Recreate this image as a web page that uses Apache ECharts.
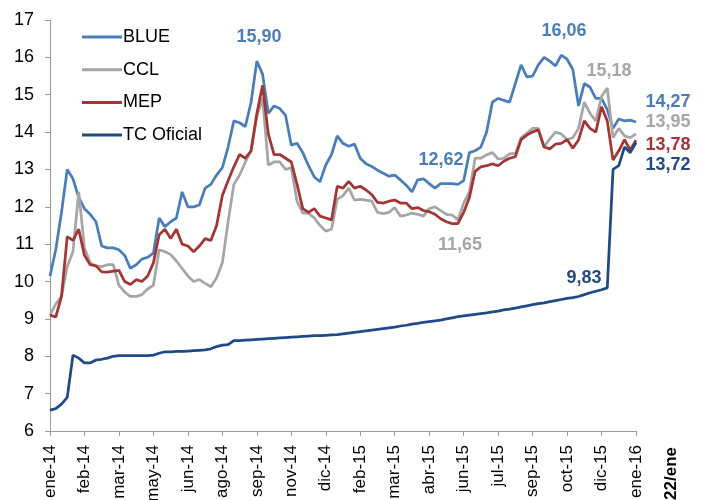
<!DOCTYPE html>
<html><head><meta charset="utf-8">
<script src="https://cdn.jsdelivr.net/npm/echarts@6/dist/echarts.min.js"></script>
<style>html,body{margin:0;padding:0;background:#fff}#c{width:702px;height:500px}</style>
</head><body><div id="c"></div>
<script>
// ---- data ----
const tickLabels = ['ene-14','feb-14','mar-14','may-14','jun-14','ago-14','sep-14','nov-14','dic-14','feb-15','mar-15','abr-15','jun-15','jul-15','sep-15','oct-15','dic-15','ene-16'];
const endLabel = '22/ene';
const seriesNames = ['BLUE', 'CCL', 'MEP', 'TC Oficial'];

const blue = [10.15,10.85,11.85,13.0,12.75,12.25,11.95,11.8,11.6,10.95,
  10.9,10.9,10.85,10.7,10.35,10.45,10.6,10.65,10.76,11.7,
  11.47,11.6,11.7,12.4,12.0,12.0,12.05,12.5,12.6,12.85,
  13.05,13.6,14.3,14.25,14.15,14.8,15.9,15.55,14.5,14.7,
  14.63,14.45,13.65,13.7,13.45,13.1,12.8,12.67,13.12,13.4,
  13.9,13.7,13.62,13.68,13.3,13.15,13.08,12.98,12.9,12.82,
  12.85,12.72,12.58,12.4,12.72,12.75,12.62,12.5,12.62,12.62,
  12.62,12.6,12.7,13.45,13.5,13.6,14.0,14.8,14.9,14.85,
  14.8,15.3,15.8,15.48,15.5,15.8,16.0,15.9,15.77,16.06,
  15.95,15.68,14.7,15.3,15.2,14.9,14.9,14.6,14.1,14.35,
  14.3,14.32,14.27];

const ccl = [9.1,9.4,9.6,10.4,10.8,12.4,10.9,10.5,10.42,10.4,
  10.45,10.45,9.9,9.72,9.6,9.6,9.65,9.8,9.9,10.85,
  10.8,10.72,10.55,10.35,10.15,10.0,10.05,9.95,9.86,10.1,
  10.5,11.6,12.6,12.85,13.2,13.5,14.4,14.9,13.12,13.2,
  13.2,13.0,13.05,12.15,11.83,11.83,11.7,11.5,11.35,11.4,
  12.2,12.3,12.5,12.18,12.2,12.18,12.15,11.85,11.82,11.85,
  11.98,11.75,11.78,11.83,11.8,11.75,11.95,12.0,11.9,11.8,
  11.78,11.65,12.1,12.4,13.3,13.3,13.39,13.45,13.28,13.3,
  13.42,13.43,13.85,13.97,14.1,14.1,13.6,13.82,14.0,13.95,
  13.8,13.85,14.1,14.8,14.5,14.3,14.95,15.18,13.85,14.1,
  13.9,13.85,13.95];

const mep = [9.1,9.05,9.6,11.2,11.1,11.4,10.7,10.45,10.42,10.26,
  10.25,10.28,10.3,10.0,9.92,10.05,10.0,10.15,10.5,11.25,
  11.4,11.15,11.4,11.0,10.95,10.8,10.95,11.15,11.1,11.5,
  12.3,12.7,13.07,13.4,13.3,13.5,14.5,15.25,13.95,13.4,
  13.4,13.3,13.2,12.6,11.95,11.85,11.95,11.75,11.7,11.65,
  12.55,12.5,12.68,12.5,12.55,12.45,12.33,12.12,12.1,12.15,
  12.18,12.1,12.1,11.95,11.98,11.9,11.87,11.8,11.68,11.6,
  11.55,11.55,11.85,12.25,12.95,13.07,13.1,13.15,13.1,13.22,
  13.3,13.34,13.8,13.92,14.0,14.06,13.6,13.55,13.68,13.7,
  13.8,13.57,13.79,14.3,14.1,14.0,14.68,14.3,13.25,13.5,
  13.8,13.52,13.78];

const tcOficial = [6.56,6.6,6.72,6.9,8.03,7.95,7.82,7.82,7.9,7.92,
  7.95,8.0,8.02,8.02,8.02,8.02,8.02,8.02,8.03,8.08,
  8.12,8.12,8.13,8.13,8.14,8.15,8.16,8.17,8.2,8.26,
  8.3,8.31,8.42,8.42,8.43,8.44,8.45,8.46,8.47,8.48,
  8.49,8.5,8.51,8.52,8.53,8.54,8.55,8.55,8.56,8.57,
  8.58,8.6,8.62,8.64,8.66,8.68,8.7,8.72,8.74,8.76,
  8.78,8.81,8.83,8.86,8.88,8.91,8.93,8.95,8.97,9.0,
  9.03,9.06,9.08,9.1,9.12,9.14,9.16,9.19,9.21,9.24,
  9.26,9.29,9.32,9.35,9.38,9.41,9.43,9.46,9.49,9.52,
  9.55,9.57,9.6,9.65,9.7,9.74,9.78,9.83,13.0,13.1,
  13.6,13.45,13.72];

const annotationTexts = ['15,90','16,06','15,18','12,62','11,65','9,83','14,27','13,95','13,78','13,72'];

// ---- chart ----
const LABEL_STEP = 6;
const categories = blue.map((_, i) => i);
const colors = ['#4a7ebb', '#a6a6a6', '#a33634', '#1f4a87'];
const FONT = "'Liberation Sans', Arial, sans-serif";

// annotation layout: [text index, x, y, color index]
const annLayout = [
  [0, 259, 37, 0], [1, 564, 31, 0], [2, 609, 71, 1], [3, 441, 160, 0],
  [4, 460, 245, 1], [5, 584, 278, 3], [6, 668, 102, 0], [7, 668, 122, 1],
  [8, 668, 145, 2], [9, 668, 165, 3]
];

const chart = echarts.init(document.getElementById('c'), null, {renderer: 'canvas'});
const data = [blue, ccl, mep, tcOficial];

chart.setOption({
  animation: false,
  backgroundColor: '#fff',
  textStyle: {fontFamily: FONT},
  grid: {left: 50, right: 66, top: 20, bottom: 69, containLabel: false, outerBoundsMode: 'none'},
  legend: {
    orient: 'vertical', left: 77, top: 23,
    icon: 'rect', itemWidth: 40, itemHeight: 3, itemGap: 14.7,
    textStyle: {fontSize: 18, color: '#000', fontFamily: FONT, padding: [0, 0, 0, -4]},
    data: seriesNames
  },
  xAxis: {
    type: 'category', data: categories, boundaryGap: false,
    axisLine: {lineStyle: {color: '#999', width: 1}},
    axisTick: {show: true, interval: LABEL_STEP - 1, length: 5, lineStyle: {color: '#999'}},
    axisLabel: {
      interval: LABEL_STEP - 1, rotate: 90, margin: 14, fontSize: 17, color: '#000', fontFamily: FONT,
      formatter: (v, idx) => tickLabels[Math.round(idx / LABEL_STEP)] || ''
    },
    splitLine: {show: false}
  },
  yAxis: {
    type: 'value', min: 6, max: 17, interval: 1,
    axisLine: {show: true, lineStyle: {color: '#999', width: 1}},
    axisTick: {show: true, length: 5, lineStyle: {color: '#999'}},
    axisLabel: {fontSize: 18, color: '#000', margin: 16, fontFamily: FONT},
    splitLine: {show: false}
  },
  series: seriesNames.map((name, k) => ({
    name, type: 'line', data: data[k], showSymbol: false, symbol: 'none',
    lineStyle: {width: 2.75, color: colors[k]}, itemStyle: {color: colors[k]},
    z: 2 + k
  })),
  graphic: annLayout.map(([t, x, y, c]) => ({
    type: 'text', x, y, z: 100,
    style: {text: annotationTexts[t], fill: colors[c], font: "bold 18px " + FONT, textAlign: 'center', textVerticalAlign: 'middle'}
  })).concat([{
    type: 'text', x: 671, y: 447, rotation: Math.PI / 2, z: 100,
    style: {text: endLabel, fill: '#000', font: "bold 17px " + FONT, textAlign: 'right', textVerticalAlign: 'middle'}
  }])
});
</script>
</body></html>
